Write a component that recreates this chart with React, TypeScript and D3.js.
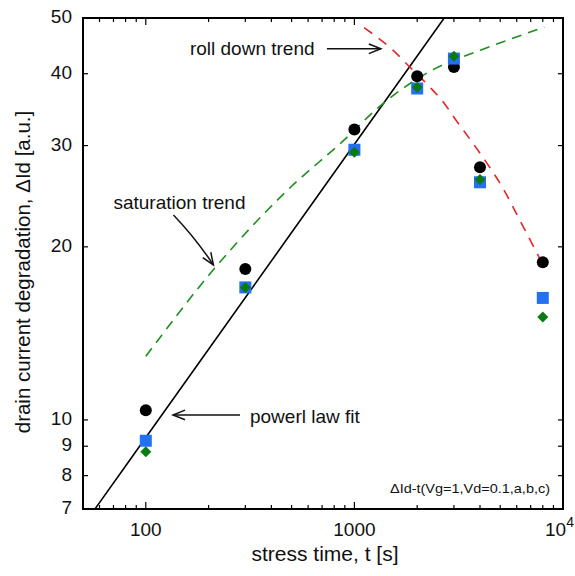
import React from "react";
import * as d3 from "d3";

// ---- data ----
const stressTimes = [100, 300, 1000, 2000, 3000, 4000, 8000];
const seriesA = [10.4, 18.3, 32.0, 39.6, 41.1, 27.5, 18.8]; // black circles
const seriesB = [9.2, 17.0, 29.5, 37.7, 42.5, 25.9, 16.3]; // blue squares
const seriesC = [8.8, 17.0, 29.2, 37.9, 42.9, 26.2, 15.1]; // green diamonds

const satT = [100, 215, 478, 860, 1385, 2461, 4050, 8140];
const satV = [12.9, 18.4, 25.1, 30.3, 35.6, 40.9, 44.0, 48.2];

const rollT = [1113, 1525, 1867, 2287, 2699, 3071, 3695, 4365, 5150, 6190, 7725];
const rollV = [48.1, 44.0, 40.9, 38.0, 35.5, 33.2, 30.3, 27.8, 25.3, 22.3, 19.1];

const fitPrefactor = 0.89;
const fitExponent = 0.51;
const fitT = [50, 60, 80, 100, 200, 500, 1000, 2000, 3000, 5000, 10000];

const yTicks = [7, 8, 9, 10, 20, 30, 40, 50];
const yTickLabels = ["7", "8", "9", "10", "20", "30", "40", "50"];
const xMajor = [100, 1000];
const xMajorLabels = ["100", "1000"];
const xMinor = [60, 70, 80, 90, 200, 300, 400, 500, 600, 700, 800, 900, 2000, 3000, 4000, 5000, 6000, 7000, 8000, 9000];

const W = 575, H = 576;
const L = 83, T = 18, R = 563, B = 509;
const FONT = "Liberation Sans, Arial, Helvetica, sans-serif";

function arrowHead(tipX: number, tipY: number, angle: number, len = 13, spread = 0.38) {
  const a1 = angle + Math.PI - spread;
  const a2 = angle + Math.PI + spread;
  return `M${tipX + len * Math.cos(a1)},${tipY + len * Math.sin(a1)} L${tipX},${tipY} L${tipX + len * Math.cos(a2)},${tipY + len * Math.sin(a2)}`;
}

export default function App() {
  const x = d3.scaleLog().domain([50, 10000]).range([L, R]);
  const y = d3.scaleLog().domain([7, 50]).range([B, T]);

  const line = d3.line<[number, number]>().x(d => x(d[0])).y(d => y(d[1]));
  const smooth = d3.line<[number, number]>().x(d => x(d[0])).y(d => y(d[1])).curve(d3.curveMonotoneX);

  const fitPath = line(fitT.map(t => [t, fitPrefactor * Math.pow(t, fitExponent)] as [number, number]));
  const satPath = smooth(satT.map((t, i) => [t, satV[i]] as [number, number]));
  const rollPath = smooth(rollT.map((t, i) => [t, rollV[i]] as [number, number]));

  // annotation anchors (data coords of arrow tips)
  const rollTip = [x(1340), y(44.2)];
  const satTip = [x(211), y(18.6)];
  const fitTip = [x(135), y(10.2)];

  return (
    <div style={{ position: "absolute", left: 0, top: 0 }}>
      <svg width={W} height={H} style={{ display: "block", background: "#fff" }} fontFamily={FONT}>
        <defs>
          <clipPath id="plotclip">
            <rect x={L} y={T} width={R - L} height={B - T} />
          </clipPath>
        </defs>

        {/* lines */}
        <g clipPath="url(#plotclip)" fill="none">
          <path d={fitPath || ""} stroke="#000" strokeWidth={1.6} />
          <path d={satPath || ""} stroke="#1f8f1f" strokeWidth={1.6} strokeDasharray="10,7" />
          <path d={rollPath || ""} stroke="#e3262b" strokeWidth={1.6} strokeDasharray="10,8" />
        </g>

        {/* markers */}
        <g>
          {stressTimes.map((t, i) => (
            <circle key={"a" + i} cx={x(t)} cy={y(seriesA[i])} r={6} fill="#000" />
          ))}
          {stressTimes.map((t, i) => (
            <rect key={"b" + i} x={x(t) - 6} y={y(seriesB[i]) - 6} width={12} height={12} fill="#2470f5" />
          ))}
          {stressTimes.map((t, i) => {
            const cx = x(t), cy = y(seriesC[i]), s = 5.5;
            return <path key={"c" + i} d={`M${cx},${cy - s} L${cx + s},${cy} L${cx},${cy + s} L${cx - s},${cy} Z`} fill="#0b7a12" />;
          })}
        </g>

        {/* ticks */}
        <g stroke="#000" strokeWidth={1.2}>
          {yTicks.map((v, i) => (
            <g key={"yt" + i}>
              <line x1={L} x2={L + 5} y1={y(v)} y2={y(v)} />
              <line x1={R} x2={R - 5} y1={y(v)} y2={y(v)} />
            </g>
          ))}
          {xMajor.map((v, i) => (
            <g key={"xM" + i}>
              <line x1={x(v)} x2={x(v)} y1={B} y2={B - 7} />
              <line x1={x(v)} x2={x(v)} y1={T} y2={T + 7} />
            </g>
          ))}
          {xMinor.map((v, i) => (
            <g key={"xm" + i}>
              <line x1={x(v)} x2={x(v)} y1={B} y2={B - 4} />
              <line x1={x(v)} x2={x(v)} y1={T} y2={T + 4} />
            </g>
          ))}
        </g>

        {/* frame */}
        <rect x={L} y={T} width={R - L} height={B - T} fill="none" stroke="#000" strokeWidth={2} />

        {/* tick labels */}
        <g fontSize={19} fill="#111">
          {yTicks.map((v, i) => (
            <text key={"yl" + i} x={L - 11} y={y(v) + 5} textAnchor="end">{yTickLabels[i]}</text>
          ))}
          {xMajor.map((v, i) => (
            <text key={"xl" + i} x={x(v)} y={536} textAnchor="middle">{xMajorLabels[i]}</text>
          ))}
          <text x={x(10000) - 18} y={536}>
            10<tspan dy={-9} fontSize={14}>4</tspan>
          </text>
        </g>

        {/* axis titles */}
        <text x={325} y={561} textAnchor="middle" fontSize={21} fill="#111">stress time, t [s]</text>
        <text transform={`translate(30,272) rotate(-90)`} textAnchor="middle" fontSize={20.5} fill="#111">
          drain current degradation, ΔId [a.u.]
        </text>

        {/* annotations */}
        <g fill="#111" fontSize={19}>
          <text x={rollTip[0] - 191} y={rollTip[1] + 6}>roll down trend</text>
          <text x={satTip[0] - 100} y={satTip[1] - 56}>saturation trend</text>
          <text x={fitTip[0] + 77} y={fitTip[1] + 8}>powerl law fit</text>
        </g>
        <g stroke="#111" strokeWidth={1.5} fill="none">
          <line x1={rollTip[0] - 54} y1={rollTip[1]} x2={rollTip[0]} y2={rollTip[1]} />
          <path d={arrowHead(rollTip[0], rollTip[1], 0)} />
          <path d={`M${satTip[0] - 40},${satTip[1] - 50} Q${satTip[0] - 18},${satTip[1] - 27} ${satTip[0]},${satTip[1]}`} />
          <path d={arrowHead(satTip[0], satTip[1], Math.atan2(27, 18))} />
          <line x1={fitTip[0] + 67} y1={fitTip[1]} x2={fitTip[0]} y2={fitTip[1]} />
          <path d={arrowHead(fitTip[0], fitTip[1], Math.PI)} />
        </g>

        <text x={390} y={493} fontSize={13} textLength={160} lengthAdjust="spacingAndGlyphs" fill="#111">
          ΔId-t(Vg=1,Vd=0.1,a,b,c)
        </text>
      </svg>
    </div>
  );
}
